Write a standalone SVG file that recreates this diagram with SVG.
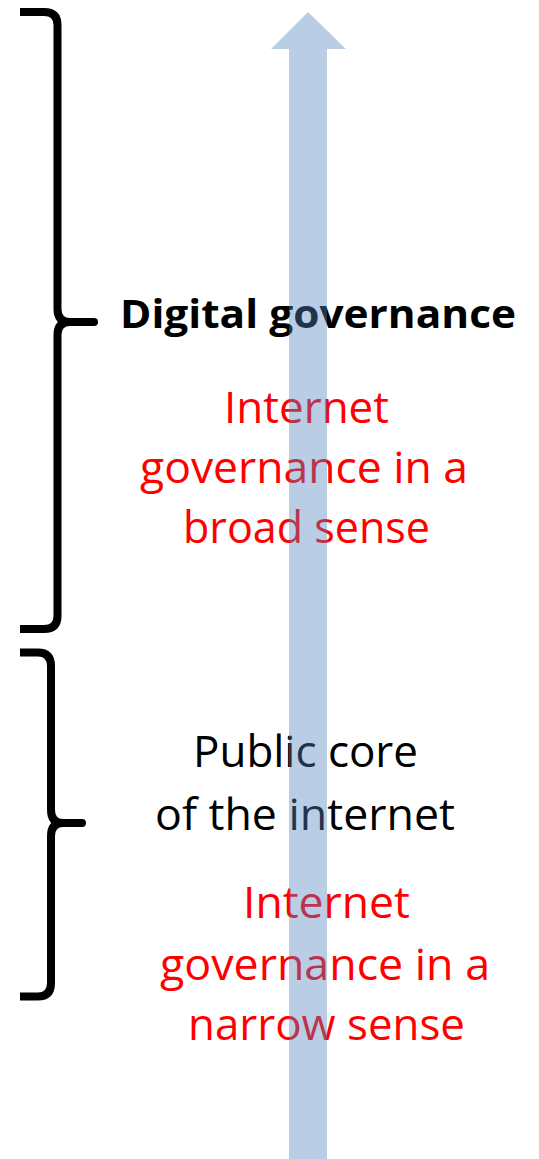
<svg xmlns="http://www.w3.org/2000/svg" width="539" height="1159" viewBox="0 0 539 1159">
  <style>
    .brace { fill: none; stroke: #000; stroke-width: 8; stroke-linejoin: round; }
    .tip { stroke-linecap: round; }
    .txt { font-family: "Open Sans", "Liberation Sans", sans-serif; font-size: 44px; }
    .black { fill: #000; }
    .red { fill: #FF0000; }
    .bold { font-weight: bold; font-size: 39px; }
    .arrow { fill: #4F81BD; fill-opacity: 0.4; }
  </style>
  <rect width="539" height="1159" fill="#FFFFFF"/>

  <g id="brace-upper">
    <path class="brace" d="M20,12 H44 Q57.5,12 57.5,25 V309 Q57.5,322 70,322 H94"/>
    <path class="brace" d="M94,322 H70 Q57.5,322 57.5,335 V616 Q57.5,629 44,629 H20"/>
    <line class="brace tip" x1="80" y1="322" x2="94" y2="322"/>
  </g>

  <g id="brace-lower">
    <path class="brace" d="M20,652.5 H38 Q51,652.5 51,666 V810 Q51,823 63,823 H82"/>
    <path class="brace" d="M82,823 H63 Q51,823 51,836 V983 Q51,996.5 38,996.5 H20"/>
    <line class="brace tip" x1="70" y1="823" x2="82" y2="823"/>
  </g>

  <g id="label-digital-governance">
    <text class="txt black bold" x="120" y="328" textLength="396" lengthAdjust="spacingAndGlyphs">Digital governance</text>
  </g>

  <g id="label-broad">
    <text class="txt red" x="224" y="423" textLength="165" lengthAdjust="spacingAndGlyphs">Internet</text>
    <text class="txt red" x="140" y="483" textLength="328" lengthAdjust="spacingAndGlyphs">governance in a</text>
    <text class="txt red" x="183" y="543" textLength="247" lengthAdjust="spacingAndGlyphs">broad sense</text>
  </g>

  <g id="label-public-core">
    <text class="txt black" x="193" y="767" textLength="225" lengthAdjust="spacingAndGlyphs">Public core</text>
    <text class="txt black" x="155" y="830" textLength="300" lengthAdjust="spacingAndGlyphs">of the internet</text>
  </g>

  <g id="label-narrow">
    <text class="txt red" x="243" y="918" textLength="167" lengthAdjust="spacingAndGlyphs">Internet</text>
    <text class="txt red" x="160" y="980" textLength="330" lengthAdjust="spacingAndGlyphs">governance in a</text>
    <text class="txt red" x="188" y="1040" textLength="277" lengthAdjust="spacingAndGlyphs">narrow sense</text>
  </g>

  <g id="connectors">
    <polygon id="arrow-up" class="arrow" points="308,12 346,49 327,49 327,1159 289,1159 289,49 271,49"/>
  </g>
</svg>
